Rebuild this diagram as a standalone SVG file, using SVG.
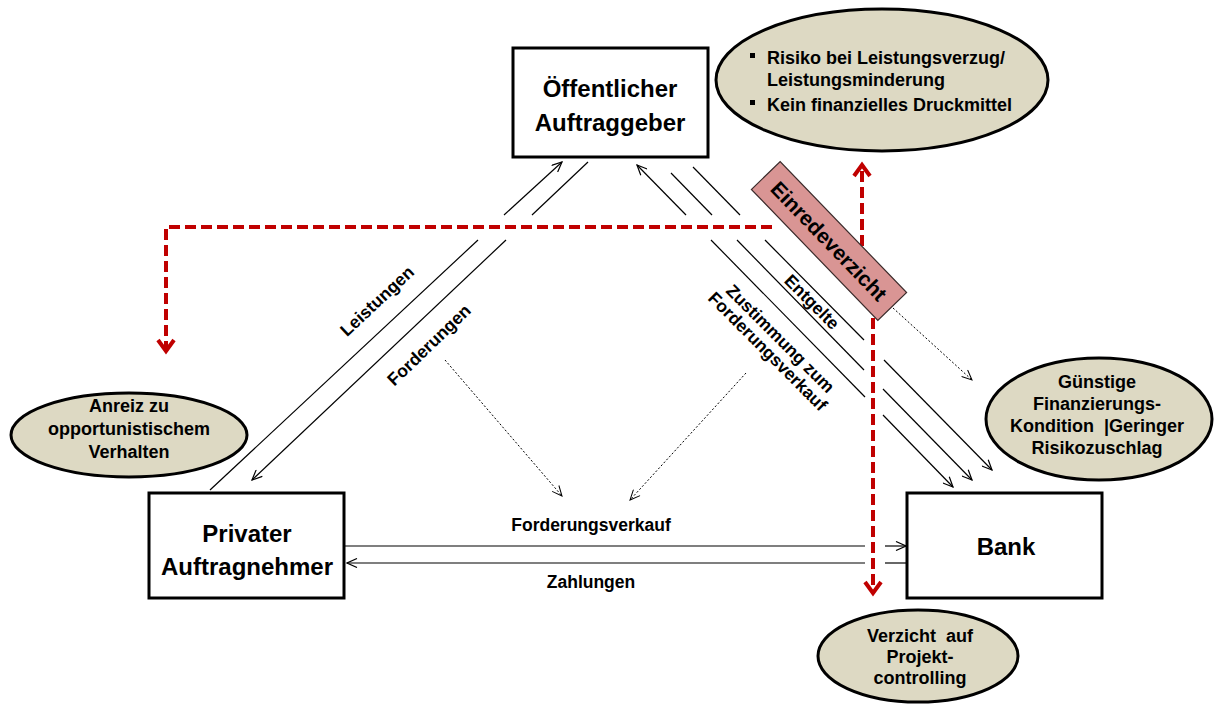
<svg xmlns="http://www.w3.org/2000/svg" width="1215" height="704" viewBox="0 0 1215 704">
  <style>
    .box { fill: #ffffff; stroke: #000000; stroke-width: 3; }
    .bubble { fill: #ddd9c3; stroke: #000000; stroke-width: 3; }
    .t { font-family: "Liberation Sans", Arial, sans-serif; font-weight: bold; fill: #000000; }
    .big { font-size: 24px; }
    .mid { font-size: 18px; }
    .lab { font-size: 17.5px; }
    .c { text-anchor: middle; }
    .flow { fill: none; stroke: #000000; stroke-width: 1.2; }
    .dot { fill: none; stroke: #000000; stroke-width: 1; stroke-dasharray: 2 2; }
    .red { fill: none; stroke: #c00000; stroke-width: 4; stroke-dasharray: 11 5; }
  </style>
  <defs>
    <marker id="ah" viewBox="0 0 12 10" refX="11" refY="5" markerWidth="12" markerHeight="10" markerUnits="userSpaceOnUse" orient="auto-start-reverse">
      <path d="M1,0.5 L11,5 L1,9.5" fill="none" stroke="#000000" stroke-width="1.2"/>
    </marker>
    <marker id="ahd" viewBox="0 0 12 10" refX="11" refY="5" markerWidth="12" markerHeight="10" markerUnits="userSpaceOnUse" orient="auto">
      <path d="M1,0.5 L11,5 L1,9.5" fill="none" stroke="#000000" stroke-width="1"/>
    </marker>
    <marker id="rh" viewBox="0 -2 20 20" refX="14" refY="8" markerWidth="20" markerHeight="20" markerUnits="userSpaceOnUse" orient="auto" overflow="visible">
      <path d="M3,0 L14,8 L3,16" fill="none" stroke="#c00000" stroke-width="4" stroke-dasharray="none"/>
    </marker>
  </defs>

  <!-- connectors -->
  <g id="connectors">
    <!-- Leistungen: contractor to client -->
    <line class="flow" x1="210" y1="490" x2="478" y2="240"/>
    <line class="flow" x1="504" y1="215" x2="562" y2="162" marker-end="url(#ah)"/>
    <!-- Forderungen: client to contractor -->
    <line class="flow" x1="588" y1="162" x2="532" y2="215"/>
    <line class="flow" x1="506" y1="240" x2="252" y2="480" marker-end="url(#ah)"/>

    <!-- client / bank: three parallel flows -->
    <line class="flow" x1="637" y1="165" x2="686" y2="215" marker-start="url(#ah)"/>
    <line class="flow" x1="711" y1="240" x2="865" y2="397"/>
    <line class="flow" x1="883" y1="415" x2="953" y2="487" marker-end="url(#ah)"/>

    <line class="flow" x1="671" y1="173" x2="712" y2="215"/>
    <line class="flow" x1="737" y1="240" x2="864" y2="370"/>
    <line class="flow" x1="883" y1="389" x2="972" y2="480" marker-end="url(#ah)"/>

    <line class="flow" x1="693" y1="167" x2="740" y2="215"/>
    <line class="flow" x1="765" y1="240" x2="864" y2="340"/>
    <line class="flow" x1="884" y1="360" x2="992" y2="470" marker-end="url(#ah)"/>

    <!-- Forderungsverkauf / Zahlungen -->
    <line class="flow" x1="345" y1="546" x2="865" y2="546"/>
    <line class="flow" x1="885" y1="546" x2="906" y2="546" marker-end="url(#ah)"/>
    <line class="flow" x1="907" y1="563" x2="885" y2="563"/>
    <line class="flow" x1="865" y1="563" x2="347" y2="563" marker-end="url(#ah)"/>

    <!-- dotted influence arrows -->
    <line class="dot" x1="445" y1="360" x2="562" y2="496" marker-end="url(#ahd)"/>
    <line class="dot" x1="746" y1="373" x2="630" y2="500" marker-end="url(#ahd)"/>
    <line class="dot" x1="893" y1="308" x2="972" y2="380" marker-end="url(#ahd)"/>

    <!-- red consequences of the waiver -->
    <path class="red" d="M772,227 H166 V351" marker-end="url(#rh)"/>
    <path class="red" d="M862,262 V165" marker-end="url(#rh)"/>
    <path class="red" d="M873,318 V593" marker-end="url(#rh)"/>
  </g>

  <!-- flow labels -->
  <g id="labels">
    <text class="t lab c" transform="translate(377,301) rotate(-43)" y="6">Leistungen</text>
    <text class="t lab c" transform="translate(429,345) rotate(-44)" y="6">Forderungen</text>
    <text class="t lab c" transform="translate(812,302) rotate(45)" y="6">Entgelte</text>
    <g transform="translate(774,345) rotate(45)">
      <text class="t lab c" y="-3">Zustimmung zum</text>
      <text class="t lab c" y="15">Forderungsverkauf</text>
    </g>
    <text class="t lab c" x="591" y="531">Forderungsverkauf</text>
    <text class="t lab c" x="591" y="588">Zahlungen</text>
  </g>

  <!-- parties -->
  <g id="oeffentlicher-auftraggeber">
    <rect class="box" x="513" y="48" width="195" height="109"/>
    <text class="t big c" x="610" y="97">Öffentlicher</text>
    <text class="t big c" x="610" y="131">Auftraggeber</text>
  </g>
  <g id="privater-auftragnehmer">
    <rect class="box" x="149" y="493" width="195" height="105"/>
    <text class="t big c" x="247" y="542">Privater</text>
    <text class="t big c" x="247" y="575">Auftragnehmer</text>
  </g>
  <g id="bank">
    <rect class="box" x="907" y="493" width="195" height="105"/>
    <text class="t big c" x="1006" y="555">Bank</text>
  </g>

  <!-- waiver of defences -->
  <g id="einredeverzicht" transform="translate(829,241) rotate(46)">
    <rect x="-91" y="-20" width="182" height="40" fill="#d99594" stroke="#3a2a2a" stroke-width="1.2"/>
    <text class="t c" font-size="21" y="7.5">Einredeverzicht</text>
  </g>

  <!-- effects -->
  <g id="risiko">
    <ellipse class="bubble" cx="882" cy="80" rx="166" ry="71"/>
    <rect x="750" y="53" width="5" height="5" fill="#000000"/>
    <text class="t mid" x="767" y="64">Risiko bei Leistungsverzug/</text>
    <text class="t mid" x="767" y="86">Leistungsminderung</text>
    <rect x="750" y="100" width="5" height="5" fill="#000000"/>
    <text class="t mid" x="767" y="111">Kein finanzielles Druckmittel</text>
  </g>
  <g id="anreiz">
    <ellipse class="bubble" cx="129" cy="435" rx="118" ry="42"/>
    <text class="t mid c" x="129" y="412">Anreiz zu</text>
    <text class="t mid c" x="129" y="435">opportunistischem</text>
    <text class="t mid c" x="129" y="458">Verhalten</text>
  </g>
  <g id="finanzierung">
    <ellipse class="bubble" cx="1099" cy="419" rx="113" ry="61"/>
    <text class="t mid c" x="1097" y="388">Günstige</text>
    <text class="t mid c" x="1097" y="410">Finanzierungs-</text>
    <text class="t mid c" x="1097" y="432" xml:space="preserve">Kondition  |Geringer</text>
    <text class="t mid c" x="1097" y="454">Risikozuschlag</text>
  </g>
  <g id="controlling">
    <ellipse class="bubble" cx="918" cy="656" rx="100" ry="46"/>
    <text class="t mid c" x="920" y="642" xml:space="preserve">Verzicht  auf</text>
    <text class="t mid c" x="920" y="663">Projekt-</text>
    <text class="t mid c" x="920" y="684">controlling</text>
  </g>
</svg>
